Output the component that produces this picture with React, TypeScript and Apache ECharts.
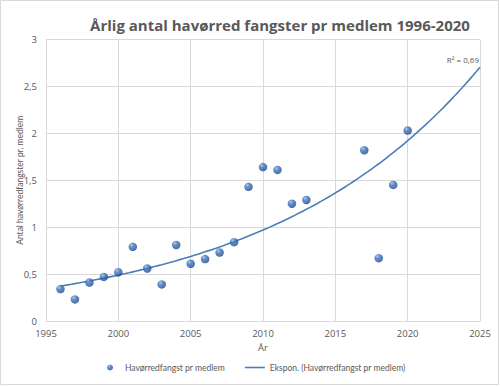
import React, { useEffect, useRef } from "react";
import * as echarts from "echarts";

const years = [1996, 1997, 1998, 1999, 2000, 2001, 2002, 2003, 2004, 2005, 2006, 2007, 2008, 2009, 2010, 2011, 2012, 2013, 2017, 2018, 2019, 2020];
const catches = [0.34, 0.23, 0.41, 0.47, 0.52, 0.79, 0.56, 0.39, 0.81, 0.61, 0.66, 0.73, 0.84, 1.43, 1.64, 1.61, 1.25, 1.29, 1.82, 0.67, 1.45, 2.03];
const xTicks = [1995, 2000, 2005, 2010, 2015, 2020, 2025];
const yTicks = [0, 0.5, 1, 1.5, 2, 2.5, 3];
const trendStart = 1996;
const trendEnd = 2025;

const TITLE = "Årlig antal havørred fangster pr medlem 1996-2020";
const SERIES_NAME = "Havørredfangst pr medlem";
const TREND_NAME = "Ekspon. (Havørredfangst pr medlem)";

function expFit(xs: number[], ys: number[]) {
  const n = xs.length;
  const ly = ys.map((v) => Math.log(v));
  const mx = xs.reduce((a, b) => a + b, 0) / n;
  const my = ly.reduce((a, b) => a + b, 0) / n;
  let sxy = 0, sxx = 0, syy = 0;
  for (let i = 0; i < n; i++) {
    sxy += (xs[i] - mx) * (ly[i] - my);
    sxx += (xs[i] - mx) ** 2;
    syy += (ly[i] - my) ** 2;
  }
  const b = sxy / sxx;
  const a = my - b * mx;
  const r2 = (sxy * sxy) / (sxx * syy);
  return { a, b, r2 };
}

export default function App() {
  const ref = useRef<HTMLDivElement>(null);
  useEffect(() => {
    document.body.style.margin = "0";
    if (!ref.current) return;
    const chart = echarts.init(ref.current, undefined, { renderer: "svg" });
    const fit = expFit(years, catches);
    const trend: number[][] = [];
    for (let x = trendStart; x <= trendEnd + 1e-9; x += 0.25) {
      trend.push([x, Math.exp(fit.a + fit.b * x)]);
    }
    const r2Text = "R² = " + fit.r2.toFixed(2).replace(".", ",");
    const font = "Open Sans";
    const grey = "#595959";
    const ball = new echarts.graphic.RadialGradient(0.35, 0.3, 0.75, [
      { offset: 0, color: "#9dbbe8" },
      { offset: 0.35, color: "#3f73bd" },
      { offset: 1, color: "#1c4585" },
    ]);
    chart.setOption({
      animation: false,
      backgroundColor: "#ffffff",
      textStyle: { fontFamily: font },
      title: {
        text: TITLE,
        left: 275,
        textAlign: "center",
        top: 12,
        textStyle: { fontFamily: font, fontWeight: "bold", fontSize: 15, color: grey },
      },
      grid: { left: 46, right: 20, top: 39.5, bottom: 65, containLabel: false },
      xAxis: {
        type: "value",
        min: xTicks[0],
        max: xTicks[xTicks.length - 1],
        interval: 5,
        name: "År",
        nameLocation: "middle",
        nameGap: 21,
        nameTextStyle: { color: grey, fontSize: 9.5, fontFamily: font },
        axisLine: { show: true, lineStyle: { color: "#d9d9d9" } },
        axisTick: { show: false },
        axisLabel: { color: grey, fontSize: 9.5, margin: 7, formatter: (v: number) => String(v) },
        splitLine: { show: true, lineStyle: { color: "#d9d9d9", width: 1 } },
      },
      yAxis: {
        type: "value",
        min: yTicks[0],
        max: yTicks[yTicks.length - 1],
        interval: 0.5,
        name: "Antal havørredfangster pr. medlem",
        nameLocation: "middle",
        nameRotate: 90,
        nameGap: 22,
        nameMoveOverlap: false,
        nameTextStyle: { color: grey, fontSize: 8.5, fontFamily: "Lato" },
        axisLine: { show: true, lineStyle: { color: "#d9d9d9" } },
        axisTick: { show: false },
        axisLabel: { color: grey, fontSize: 9.5, margin: 9, formatter: (v: number) => String(v).replace(".", ",") },
        splitLine: { show: true, lineStyle: { color: "#d9d9d9", width: 1 } },
      },
      legend: {
        bottom: 9,
        left: 102,
        itemGap: 20,
        itemWidth: 20,
        itemHeight: 6,
        textStyle: { color: grey, fontSize: 8.5, fontFamily: "Lato" },
        data: [
          { name: SERIES_NAME, icon: "circle", itemStyle: { color: ball } },
          { name: TREND_NAME, icon: "path://M0 0H20V1.6H0Z", itemStyle: { color: "#4a7ebb" } },
        ],
      },
      series: [
        {
          name: SERIES_NAME,
          type: "scatter",
          symbol: "circle",
          symbolSize: 8.5,
          data: years.map((y, i) => [y, catches[i]]),
          itemStyle: { color: ball },
          z: 3,
        },
        {
          name: TREND_NAME,
          type: "line",
          data: trend,
          showSymbol: false,
          symbol: "none",
          smooth: false,
          lineStyle: { color: "#4a7ebb", width: 1.6 },
          itemStyle: { color: "#4a7ebb" },
          endLabel: {
            show: true,
            formatter: () => r2Text,
            color: grey,
            fontSize: 8,
            fontFamily: font,
            align: "right",
            offset: [-9, -8],
          },
          z: 2,
        },
      ],
      graphic: [
        {
          type: "rect",
          shape: { x: 0.5, y: 0.5, width: 498, height: 384 },
          style: { fill: "none", stroke: "#d9d9d9", lineWidth: 1 },
          silent: true,
        },
      ],
    });
    return () => chart.dispose();
  }, []);
  return <div ref={ref} style={{ width: 500, height: 386 }} />;
}
